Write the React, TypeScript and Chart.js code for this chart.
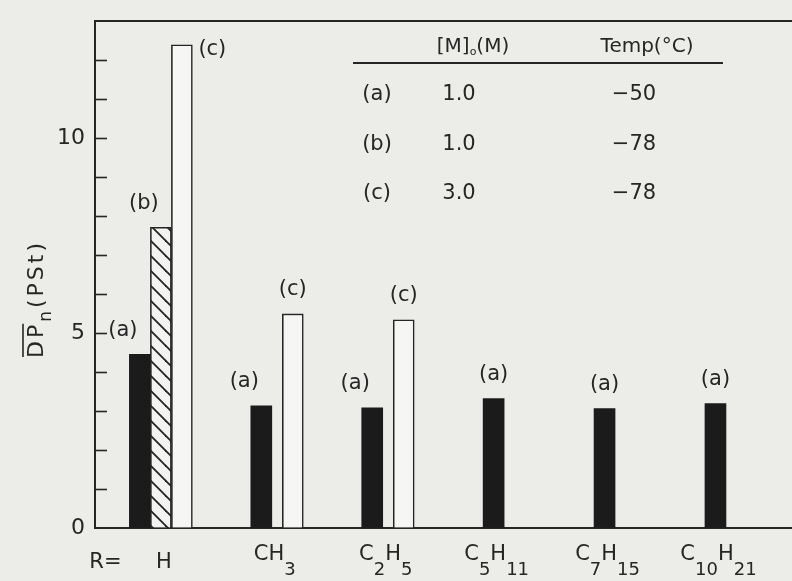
import { useEffect, useRef } from 'react';
import { Chart, registerables } from 'chart.js';

Chart.register(...registerables);

// ---------------- data ----------------
const categories = ['H', 'CH_{3}', 'C_{2}H_{5}', 'C_{5}H_{11}', 'C_{7}H_{15}', 'C_{10}H_{21}'];
const axisPrefix = 'R=';
const seriesNames = ['(a)', '(b)', '(c)'];
const seriesA: (number | null)[] = [4.45, 3.13, 3.08, 3.32, 3.06, 3.19];
const seriesB: (number | null)[] = [7.71, null, null, null, null, null];
const seriesC: (number | null)[] = [12.39, 5.49, 5.34, null, null, null];
const yLabelledTicks = [0, 5, 10];
const yTitle = '~{DP}_{n}(PSt)';
const tableHeaders = ['[M]_{o}(M)', 'Temp(°C)'];
const concentrations = ['1.0', '1.0', '3.0'];
const temperatures = ['−50', '−78', '−78'];

// ---------------- helpers ----------------
type Seg = { t: string; sub?: boolean; over?: boolean };
function parseRich(s: string): Seg[] {
  const segs: Seg[] = [];
  const re = /([_~])\{([^}]*)\}|([^_~]+)/g;
  let m: RegExpExecArray | null;
  while ((m = re.exec(s))) {
    if (m[3]) segs.push({ t: m[3] });
    else segs.push({ t: m[2], sub: m[1] === '_', over: m[1] === '~' });
  }
  return segs;
}

function drawRich(
  ctx: CanvasRenderingContext2D,
  s: string,
  x: number,
  y: number,
  o: { font: string; subFont: string; subDy: number; align: 'center' | 'left'; overDy?: number }
) {
  const segs = parseRich(s);
  const widths = segs.map((sg) => {
    ctx.font = sg.sub ? o.subFont : o.font;
    return ctx.measureText(sg.t).width;
  });
  const total = widths.reduce((a, b) => a + b, 0);
  let cx = o.align === 'center' ? x - total / 2 : x;
  ctx.textAlign = 'left';
  ctx.textBaseline = 'alphabetic';
  segs.forEach((sg, k) => {
    ctx.font = sg.sub ? o.subFont : o.font;
    ctx.fillText(sg.t, cx, sg.sub ? y + o.subDy : y);
    if (sg.over) {
      ctx.beginPath();
      ctx.lineWidth = 1.6;
      ctx.moveTo(cx + 1, y - (o.overDy || 19));
      ctx.lineTo(cx + widths[k] - 2, y - (o.overDy || 19));
      ctx.stroke();
    }
    cx += widths[k];
  });
}

const FONT = '"DejaVu Sans", sans-serif';
const INK = '#262626';

function makeHatch(): CanvasPattern | string {
  const c = document.createElement('canvas');
  const p = 15;
  c.width = p;
  c.height = p;
  const g = c.getContext('2d');
  if (!g) return '#888';
  g.fillStyle = '#f3f3f1';
  g.fillRect(0, 0, p, p);
  g.strokeStyle = '#222';
  g.lineWidth = 1.8;
  for (let k = -1; k <= 1; k++) {
    g.beginPath();
    g.moveTo(k * p - 2, -2);
    g.lineTo(k * p + p + 2, p + 2);
    g.stroke();
  }
  return g.createPattern(c, 'repeat') || '#888';
}

const decorPlugin = {
  id: 'decor',
  beforeDraw(chart: any) {
    const ctx = chart.ctx as CanvasRenderingContext2D;
    ctx.save();
    ctx.fillStyle = '#ecece9';
    ctx.fillRect(0, 0, chart.width, chart.height);
    ctx.restore();
  },
  afterDraw(chart: any) {
    const ctx = chart.ctx as CanvasRenderingContext2D;
    const area = chart.chartArea;
    const xs = chart.scales.x;
    const ys = chart.scales.y;
    ctx.save();
    ctx.strokeStyle = INK;
    ctx.fillStyle = INK;

    // top frame line
    ctx.lineWidth = 2;
    ctx.beginPath();
    ctx.moveTo(area.left - 1, area.top);
    ctx.lineTo(area.right, area.top);
    ctx.stroke();

    // inward y tick marks
    ctx.lineWidth = 1.6;
    ys.ticks.forEach((t: any) => {
      if (t.value <= ys.min || t.value >= ys.max) return;
      const py = Math.round(ys.getPixelForValue(t.value)) + 0.5;
      ctx.beginPath();
      ctx.moveTo(area.left, py);
      ctx.lineTo(area.left + 12, py);
      ctx.stroke();
    });

    // category labels
    const mainFont = `21px ${FONT}`;
    const subFont = `18px ${FONT}`;
    drawRich(ctx, axisPrefix, xs.getPixelForValue(-0.5), area.bottom + 40, {
      font: mainFont, subFont, subDy: 15, align: 'center',
    });
    categories.forEach((c, i) => {
      const hasSub = c.indexOf('_{') >= 0;
      drawRich(ctx, c, xs.getPixelForValue(i) + 3, area.bottom + (hasSub ? 32 : 40), {
        font: mainFont, subFont, subDy: 15, align: 'center',
      });
    });

    // bar labels
    const all = [seriesA, seriesB, seriesC];
    ctx.font = `21px ${FONT}`;
    ctx.textBaseline = 'middle';
    all.forEach((ser, d) => {
      const meta = chart.getDatasetMeta(d);
      meta.data.forEach((el: any, i: number) => {
        if (ser[i] == null) return;
        const later = all.slice(d + 1).some((s) => s[i] != null);
        let lx = el.x - (later ? 17 : 0);
        let ly = el.y - 24;
        ctx.textAlign = 'center';
        if (ly < area.top + 14) {
          ctx.textAlign = 'left';
          lx = el.x + el.width / 2 + 6;
          ly = el.y + 5;
        }
        ctx.fillText(seriesNames[d], lx, ly);
      });
    });

    // legend table
    drawRich(ctx, tableHeaders[0], 473, 52, {
      font: `20px ${FONT}`, subFont: `11px ${FONT}`, subDy: 3, align: 'center',
    });
    drawRich(ctx, tableHeaders[1], 647, 52, {
      font: `20px ${FONT}`, subFont: `11px ${FONT}`, subDy: 3, align: 'center',
    });
    ctx.lineWidth = 2;
    ctx.beginPath();
    ctx.moveTo(353, 63);
    ctx.lineTo(723, 63);
    ctx.stroke();
    ctx.font = `21px ${FONT}`;
    ctx.textBaseline = 'middle';
    ctx.textAlign = 'center';
    seriesNames.forEach((n, r) => {
      const ry = 95 + r * 49.5;
      ctx.fillText(n, 377, ry);
      ctx.fillText(concentrations[r], 459, ry);
      ctx.fillText(temperatures[r], 634, ry);
    });

    // y title (rotated)
    ctx.save();
    ctx.translate(43, 299);
    ctx.rotate(-Math.PI / 2);
    (ctx as any).letterSpacing = '3px';
    drawRich(ctx, yTitle, 0, 0, {
      font: `22px ${FONT}`, subFont: `17px ${FONT}`, subDy: 8, align: 'center', overDy: 20,
    });
    (ctx as any).letterSpacing = '0px';
    ctx.restore();

    ctx.restore();
  },
};

export default function App() {
  const ref = useRef<HTMLCanvasElement | null>(null);
  useEffect(() => {
    if (!ref.current) return;
    const hatch = makeHatch();
    const toPts = (s: (number | null)[]) => s.map((y, i) => ({ x: i, y }));
    const chart = new Chart(ref.current, {
      type: 'bar',
      data: {
        datasets: [
          {
            label: seriesNames[0],
            data: toPts(seriesA) as any,
            backgroundColor: '#1b1b1b',
            borderWidth: 0,
            barThickness: 21,
            skipNull: true,
          } as any,
          {
            label: seriesNames[1],
            data: toPts(seriesB) as any,
            backgroundColor: hatch as any,
            borderColor: INK,
            borderWidth: 1.6,
            barThickness: 21,
            skipNull: false,
          } as any,
          {
            label: seriesNames[2],
            data: toPts(seriesC) as any,
            backgroundColor: '#f6f6f4',
            borderColor: INK,
            borderWidth: 1.6,
            barThickness: 21,
            skipNull: false,
          } as any,
        ],
      },
      options: {
        responsive: false,
        animation: false,
        devicePixelRatio: 1,
        layout: { padding: { top: 13, left: 0, right: 0, bottom: 0 } },
        plugins: { legend: { display: false }, tooltip: { enabled: false }, title: { display: false } },
        scales: {
          x: {
            type: 'linear',
            min: -0.594,
            max: 5.69,
            offset: false,
            grid: { display: false },
            ticks: { display: false },
            border: { display: true, color: INK, width: 2 },
            afterFit: (s: any) => {
              s.height = 53;
            },
          } as any,
          y: {
            min: 0,
            max: 13,
            grid: { display: true, drawOnChartArea: false, drawTicks: false },
            border: { display: true, color: INK, width: 2 },
            ticks: {
              stepSize: 1,
              padding: 10,
              color: INK,
              font: { family: '"DejaVu Sans", sans-serif', size: 22, lineHeight: 1 },
              callback: (v: any) => (yLabelledTicks.includes(Number(v)) ? String(v) : ''),
            },
            afterFit: (s: any) => {
              s.width = 95;
            },
          } as any,
        },
      },
      plugins: [decorPlugin],
    });
    return () => chart.destroy();
  }, []);
  return (
    <div style={{ position: 'absolute', left: 0, top: 0, width: 792, height: 581, background: '#ecece9' }}>
      <canvas ref={ref} width={792} height={581} style={{ display: 'block' }} />
    </div>
  );
}
